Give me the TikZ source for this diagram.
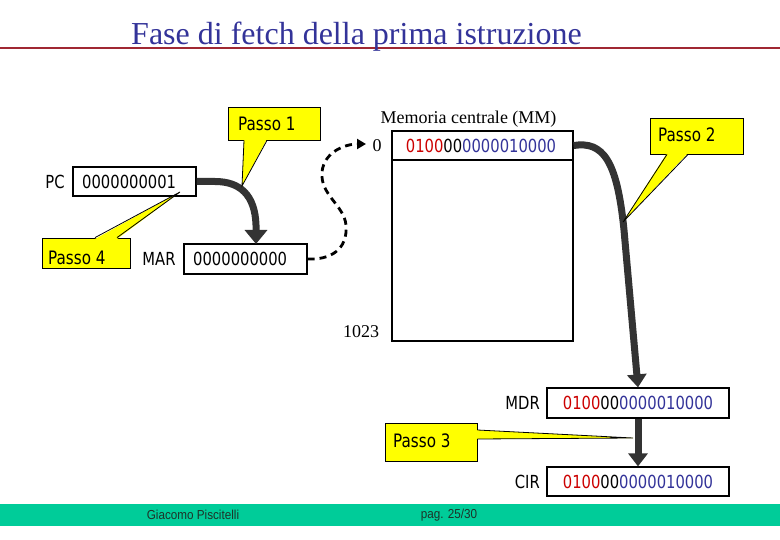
\documentclass[tikz,border=0pt]{standalone}
\usepackage{fontspec}
\setmainfont{Liberation Serif}
\newfontfamily\tahfont[FakeStretch=0.82]{DejaVu Sans}
\newfontfamily\footfont[FakeStretch=0.9]{Liberation Sans}
\usetikzlibrary{arrows.meta}
\definecolor{ttlblue}{RGB}{51,51,153}
\definecolor{linered}{RGB}{160,40,50}
\definecolor{digred}{RGB}{204,0,0}
\definecolor{digblue}{RGB}{51,51,153}
\definecolor{cyellow}{RGB}{255,255,0}
\definecolor{bandteal}{RGB}{0,204,153}
\definecolor{agray}{RGB}{51,51,51}
\definecolor{foottext}{RGB}{30,50,40}
\newcommand{\instr}{\textcolor{digred}{0100}00\textcolor{digblue}{0000010000}}
\tikzset{
  sanslbl/.style={font=\tahfont\fontsize{18}{21}\selectfont, inner sep=0pt},
  passolbl/.style={font=\tahfont\fontsize{18.5}{22}\selectfont, inner sep=0pt, anchor=west},
  seriflbl/.style={font=\fontsize{18}{21}\selectfont, inner sep=0pt},
  regbox/.style={draw, line width=1.2pt, inner sep=0pt},
  callbox/.style={draw, line width=0.8pt, fill=cyellow, inner sep=0pt},
  wedgefill/.style={fill=cyellow},
  wedgeline/.style={draw, line width=0.8pt},
  bigarrow/.style={draw=agray, line width=7pt, -{Triangle[width=22pt,length=14pt]}},
  midarrow/.style={draw=agray, line width=7pt, -{Triangle[width=19pt,length=13pt]}},
  dasharrow/.style={draw=black, line width=2.8pt, dash pattern=on 7pt off 5pt, -{Triangle[width=10pt,length=9pt]}},
  foottxt/.style={font=\footfont\fontsize{13}{15}\selectfont, text=foottext, inner sep=0pt}
}
\begin{document}
\begin{tikzpicture}[x=1pt,y=-1pt]
\useasboundingbox (0,0) rectangle (780,540);
\fill[white] (0,0) rectangle (780,540);

% title
\draw[linered, line width=1.5pt] (0,48) -- (780,48);
\node[font=\fontsize{32}{36}\selectfont, text=ttlblue, anchor=base, inner sep=0pt] (title) at (356.5,45) {Fase di fetch della prima istruzione};

% registers
\node[regbox, minimum width=123pt, minimum height=29pt] (pc) at (134.5,181.5) {};
\node[sanslbl, anchor=west] (pcv) at (82,181.5) {0000000001};
\node[sanslbl] (pcl) at (55,182) {PC};

\node[regbox, minimum width=123pt, minimum height=30pt] (mar) at (245.5,259) {};
\node[sanslbl, anchor=west] (marv) at (193,259) {0000000000};
\node[sanslbl] (marl) at (159,259) {MAR};

% memory
\node[regbox, minimum width=181pt, minimum height=210pt] (mem) at (482.5,236) {};
\node[regbox, minimum width=181pt, minimum height=29pt] (row0) at (482.5,145.5) {};
\node[sanslbl] (row0v) at (481,146) {\instr};
\node[seriflbl, anchor=base] (meml) at (468.5,124) {Memoria centrale (MM)};
\node[seriflbl] (addr0) at (377,146) {0};
\node[seriflbl] (addrn) at (361,332) {1023};

\node[regbox, minimum width=182pt, minimum height=30pt] (mdr) at (638,403) {};
\node[sanslbl] (mdrv) at (638,403) {\instr};
\node[sanslbl, anchor=east] (mdrl) at (540,403) {MDR};

\node[regbox, minimum width=182pt, minimum height=29pt] (cir) at (638,481.5) {};
\node[sanslbl] (cirv) at (638,482) {\instr};
\node[sanslbl, anchor=east] (cirl) at (540,482) {CIR};

% arrows
\coordinate (marin) at (256,244);
\draw[bigarrow] (pc.east) -- (215,181.5) .. controls (240,181.5) and (255,195) .. (256,225) -- (marin);
\draw[dasharrow] (mar.east) .. controls (330,260) and (348,250) .. (346,225)
   .. controls (344,205) and (320,195) .. (322,172)
   .. controls (324,152) and (345,144) .. (366,144);
\draw[midarrow] (row0.east) .. controls (603,141) and (617,160) .. (624,230) -- (mdr.north);
\draw[midarrow] (mdr.south) -- (cir.north);

% callouts
\node[callbox, minimum width=92pt, minimum height=33pt] (p1) at (274,123.5) {};
\fill[wedgefill] (244,139) -- (267,139) -- (242,186) -- cycle;
\draw[wedgeline] (244,140.4) -- (242,186) -- (267,140.4);
\node[passolbl] (p1t) at (238,124) {Passo 1};

\node[callbox, minimum width=93pt, minimum height=36pt] (p2) at (696.5,136) {};
\fill[wedgefill] (667,153) -- (688,153) -- (623,222) -- cycle;
\draw[wedgeline] (667,154.4) -- (623,222) -- (688,154.4);
\node[passolbl] (p2t) at (658,135) {Passo 2};

\node[callbox, minimum width=92pt, minimum height=38pt] (p3) at (431,442) {};
\fill[wedgefill] (476,430) -- (476,439) -- (633,438) -- cycle;
\draw[wedgeline] (477.4,430) -- (633,438) -- (477.4,439);
\node[passolbl] (p3t) at (393,441) {Passo 3};

\node[callbox, minimum width=88pt, minimum height=30pt] (p4) at (86,253) {};
\fill[wedgefill] (95,239) -- (117,239) -- (180,192) -- cycle;
\draw[wedgeline] (95,237.6) -- (180,192) -- (117,237.6);
\node[passolbl] (p4t) at (48,257.5) {Passo 4};

% footer
\fill[bandteal] (0,504) rectangle (780,526);
\node[foottxt] (author) at (193,515) {Giacomo Piscitelli};
\node[foottxt] (page) at (449,515) {pag. 25/30};
\end{tikzpicture}
\end{document}
